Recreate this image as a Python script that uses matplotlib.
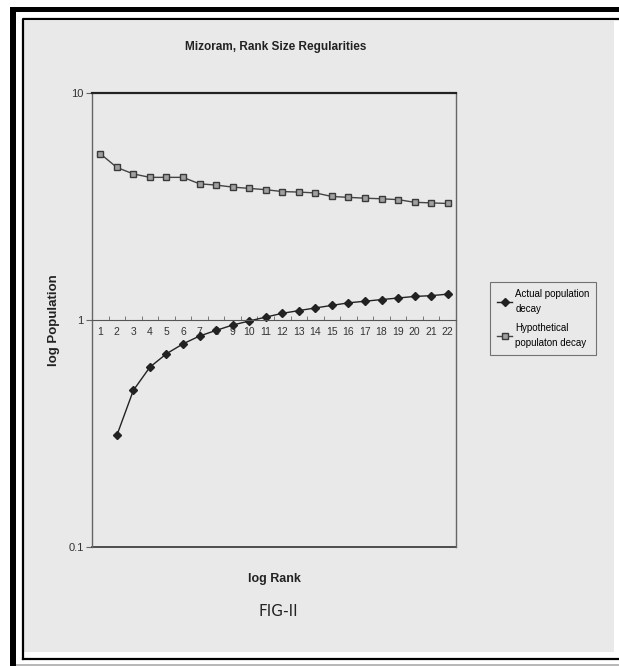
import matplotlib
matplotlib.use("Agg")
import matplotlib.pyplot as plt
from matplotlib.patches import Rectangle
from matplotlib.lines import Line2D

# ranks 1..22
ranks = list(range(1, 23))
rank_labels = [str(r) for r in ranks]

# actual population decay (no value for rank 1)
actual = [None, 0.31, 0.49, 0.62, 0.71, 0.785, 0.85, 0.90, 0.95, 0.99, 1.03,
          1.07, 1.10, 1.13, 1.16, 1.19, 1.21, 1.23, 1.25, 1.27, 1.28, 1.30]
# hypothetical population decay
hypothetical = [5.4, 4.7, 4.4, 4.25, 4.25, 4.25, 3.98, 3.93, 3.85, 3.8, 3.75,
                3.68, 3.66, 3.63, 3.5, 3.47, 3.44, 3.42, 3.39, 3.3, 3.28, 3.26]

W, H = 619, 666
BG = "#e9e9e9"
INK = "#222222"
FONT = ["Liberation Sans Narrow", "Liberation Sans", "DejaVu Sans"]


def fx(x):
    return x / W


def fy(y):
    return 1 - y / H


fig = plt.figure(figsize=(W / 100, H / 100), dpi=100, facecolor="white")

# page frame (scan look)
fig.patches.append(Rectangle((fx(24), fy(652)), fx(614) - fx(24), fy(21) - fy(652),
                             transform=fig.transFigure, facecolor=BG, edgecolor="none", zorder=-5))
fig.patches.append(Rectangle((fx(10), fy(666)), fx(16) - fx(10), fy(7) - fy(666),
                             transform=fig.transFigure, facecolor="black", edgecolor="none", zorder=-4))
fig.patches.append(Rectangle((fx(10), fy(12)), 1 - fx(10), fy(7) - fy(12),
                             transform=fig.transFigure, facecolor="black", edgecolor="none", zorder=-4))
fig.lines.append(Line2D([fx(22.5), fx(22.5), 1], [fy(658.5), fy(19), fy(19)],
                        transform=fig.transFigure, color="black", lw=1.6, zorder=-4))
fig.lines.append(Line2D([fx(22.5), 1], [fy(658.5), fy(658.5)],
                        transform=fig.transFigure, color="black", lw=1.6, zorder=-4))
fig.lines.append(Line2D([fx(16), 1], [fy(665), fy(665)],
                        transform=fig.transFigure, color="#aaaaaa", lw=1.2, zorder=-4))

ax = fig.add_axes([fx(92), fy(547), fx(456) - fx(92), fy(93) - fy(547)])
ax.set_facecolor("none")
ax.set_yscale("log")
ax.set_ylim(0.1, 10)
ax.set_xlim(0, 22)

xs = [i + 0.5 for i in range(len(ranks))]
ax_x = [x for x, v in zip(xs, actual) if v is not None]
ax_y = [v for v in actual if v is not None]

ax.plot(ax_x, ax_y, color=INK, lw=1.0, marker="D", markersize=3.8,
        markerfacecolor=INK, markeredgecolor=INK, label="Actual population\ndecay")
ax.plot(xs, hypothetical, color="#444444", lw=1.0, marker="s", markersize=3.8,
        markerfacecolor="#a0a0a0", markeredgecolor="#3a3a3a", label="Hypothetical\npopulaton decay")

# category axis crosses at 1, like the spreadsheet chart
ax.spines["bottom"].set_position(("data", 1))
ax.spines["bottom"].set_color("#555555")
ax.axhline(0.1, color="#333333", lw=1.2, clip_on=False)
for s in ["left", "right"]:
    ax.spines[s].set_color("#666666")
    ax.spines[s].set_linewidth(1.0)
ax.spines["top"].set_color("#222222")
ax.spines["top"].set_linewidth(1.6)

ax.set_xticks(xs)
ax.set_xticklabels(rank_labels, family=FONT, fontsize=7.5, color="#333333")
ax.set_xticks([float(i) for i in range(23)], minor=True)
ax.tick_params(axis="x", which="major", length=0, pad=5)
ax.tick_params(axis="x", which="minor", length=3, direction="in", color="#666666")

ax.set_yticks([0.1, 1, 10])
ax.set_yticklabels(["0.1", "1", "10"], family=FONT, fontsize=8, color="#333333")
ax.yaxis.set_minor_locator(matplotlib.ticker.NullLocator())
ax.tick_params(axis="y", length=4, color="#666666", pad=2)

ax.set_ylabel("log Population", family=FONT, fontsize=9.5, fontweight="bold", color=INK)
ax.yaxis.set_label_coords(-0.088, 0.5)
ax.set_xlabel("log Rank", family=FONT, fontsize=9, fontweight="bold", color=INK)
ax.xaxis.set_label_coords(0.5, -0.057)

fig.text(fx(276), fy(47), "Mizoram, Rank Size Regularities", family=FONT, fontsize=8.5,
         fontweight="bold", color=INK, ha="center", va="center")

leg = fig.legend(loc="upper left", bbox_to_anchor=(fx(490), fy(282)),
                 prop={"family": FONT, "size": 7}, frameon=True, fancybox=False,
                 handlelength=1.6, handletextpad=0.3, borderpad=0.7, labelspacing=1.0,
                 borderaxespad=0)
for t in leg.get_texts():
    t.set_linespacing(1.6)
leg.get_frame().set_edgecolor("#555555")
leg.get_frame().set_facecolor("none")
leg.get_frame().set_linewidth(0.8)

fig.text(fx(278), fy(611), "FIG-II", family="DejaVu Sans", fontsize=11,
         color=INK, ha="center", va="center")

fig.savefig("out.png", dpi=100, facecolor="white")
